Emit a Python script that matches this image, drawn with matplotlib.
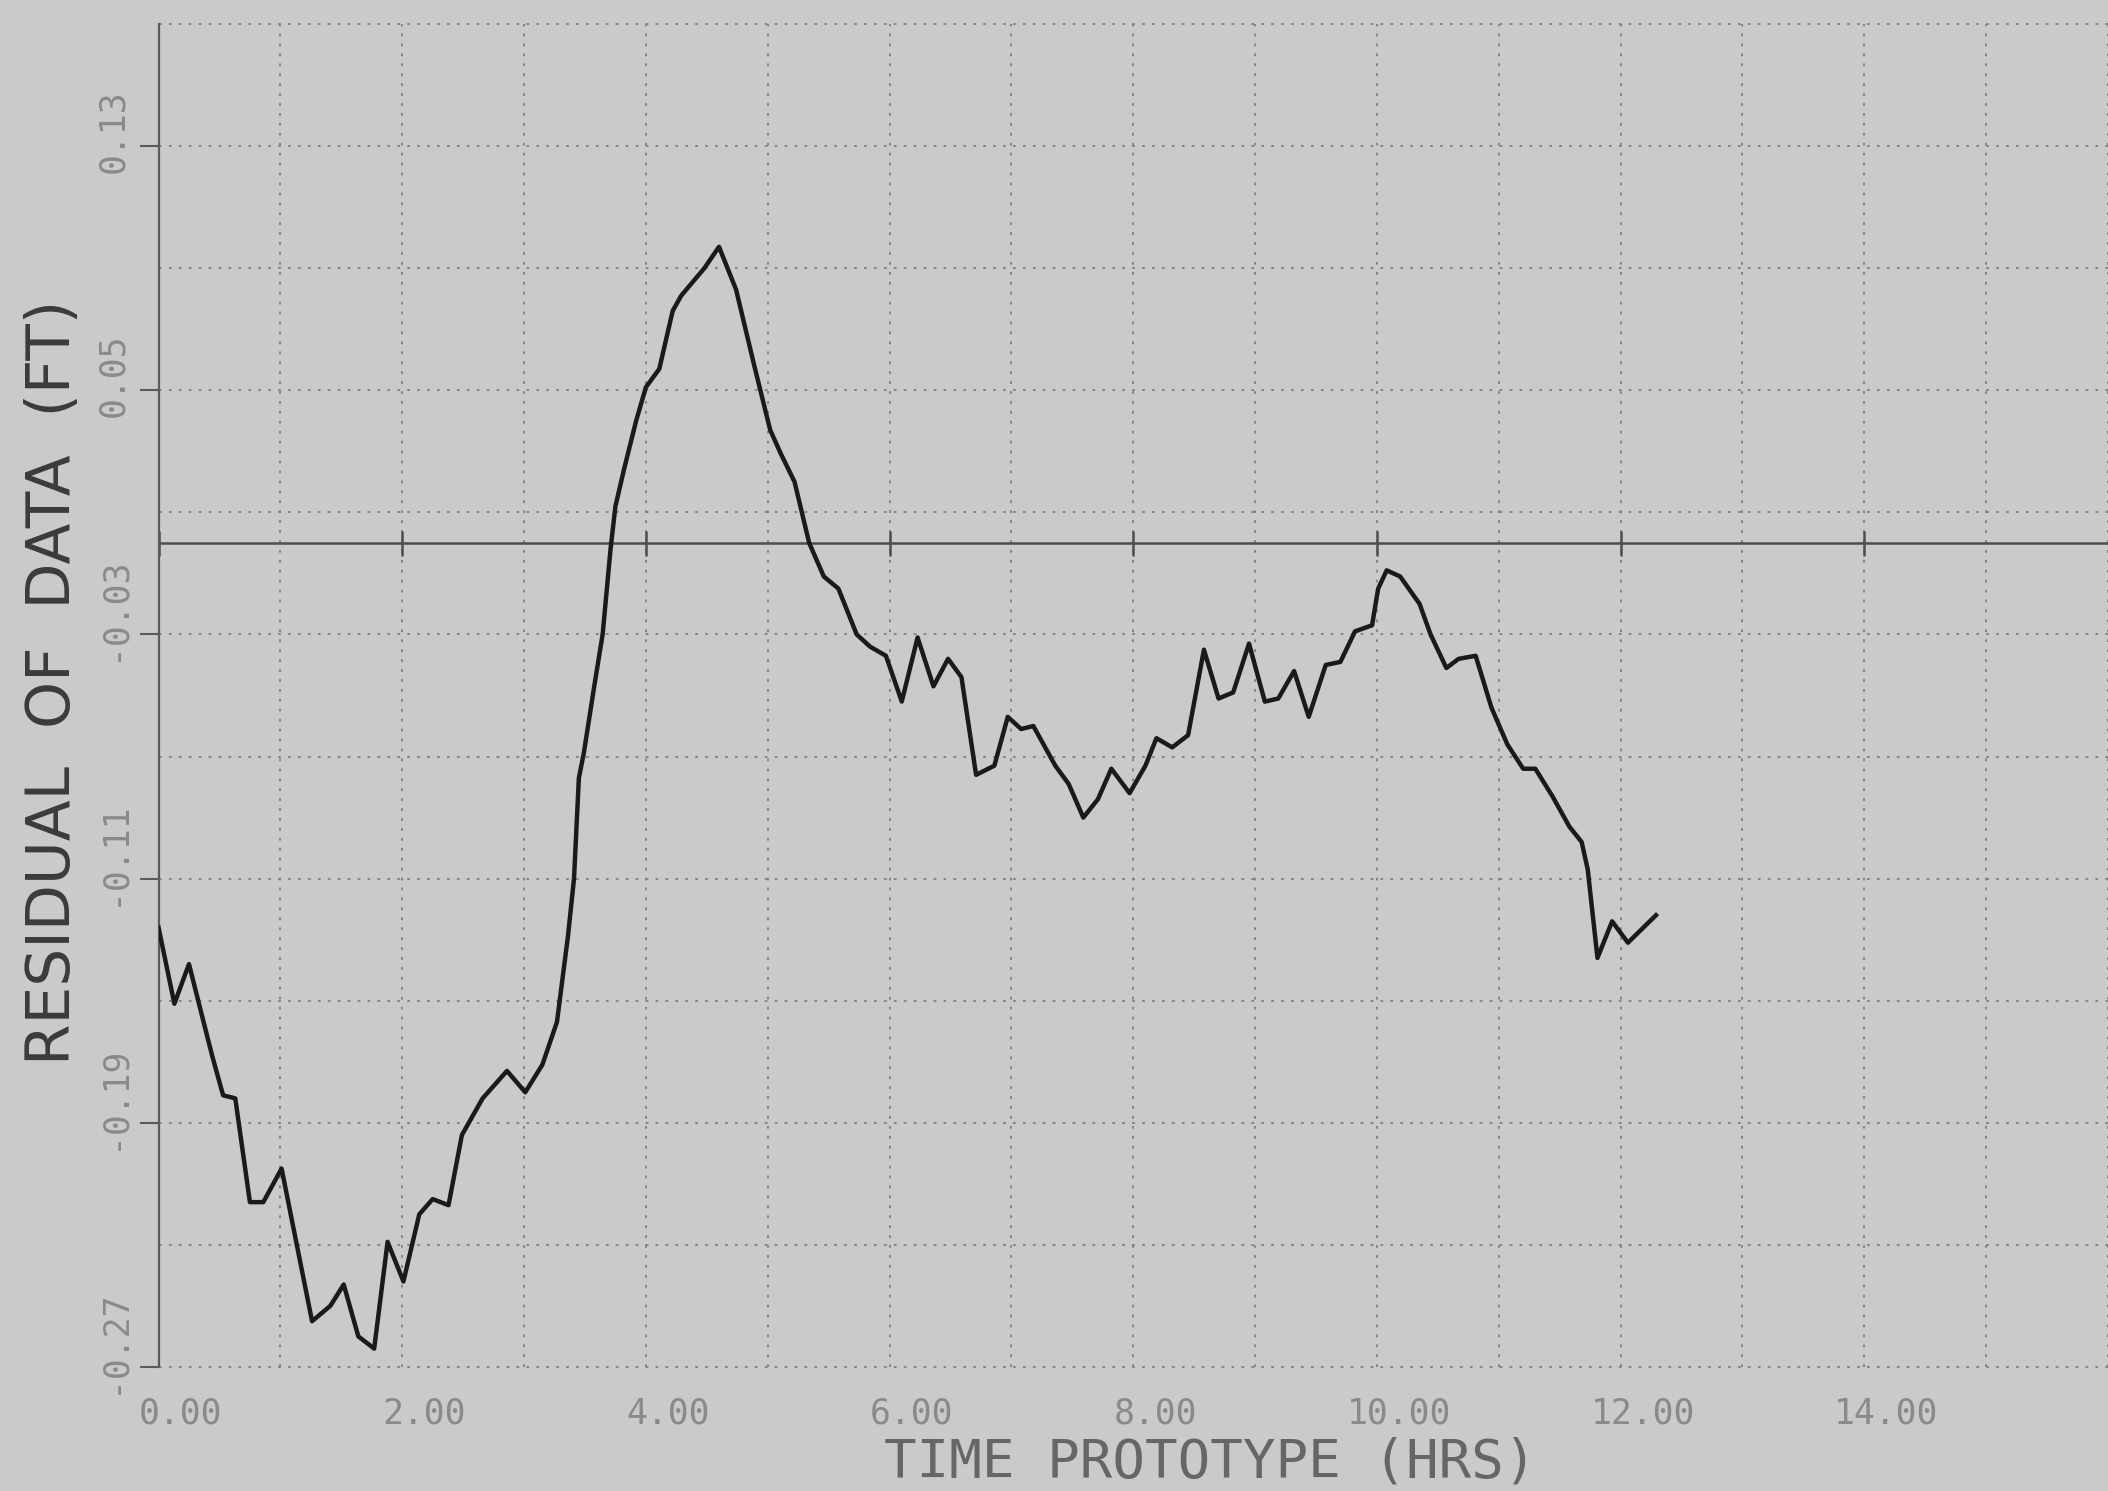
import matplotlib
matplotlib.use("Agg")
import matplotlib.pyplot as plt
from matplotlib.transforms import ScaledTranslation, blended_transform_factory

# ---------------- data ----------------
time_hrs = [0.00, 0.13, 0.25, 0.37, 0.44, 0.53, 0.63, 0.75, 0.86, 1.01,
            1.26, 1.41, 1.52, 1.64, 1.77, 1.88, 2.01, 2.14, 2.25, 2.38,
            2.49, 2.66, 2.86, 3.01, 3.15, 3.27, 3.36, 3.41, 3.45, 3.49,
            3.58, 3.645, 3.71, 3.75, 3.82, 3.92, 4.00, 4.11, 4.22, 4.29,
            4.48, 4.60, 4.74, 4.89, 5.02, 5.11, 5.22, 5.34, 5.46, 5.58,
            5.73, 5.84, 5.97, 6.10, 6.23, 6.36, 6.48, 6.59, 6.71, 6.86,
            6.97, 7.08, 7.18, 7.36, 7.47, 7.59, 7.71, 7.82, 7.97, 8.10,
            8.19, 8.32, 8.45, 8.58, 8.70, 8.82, 8.95, 9.08, 9.19, 9.32,
            9.44, 9.58, 9.70, 9.82, 9.96, 10.01, 10.08, 10.19, 10.35, 10.44,
            10.57, 10.67, 10.81, 10.94, 11.07, 11.20, 11.30, 11.44, 11.58, 11.68,
            11.73, 11.81, 11.93, 12.06, 12.29]
residual_ft = [-0.126, -0.151, -0.138, -0.157, -0.168, -0.181, -0.182, -0.216, -0.216, -0.205,
               -0.255, -0.250, -0.243, -0.260, -0.264, -0.229, -0.242, -0.220, -0.215, -0.217,
               -0.194, -0.182, -0.173, -0.180, -0.171, -0.157, -0.129, -0.110, -0.077, -0.069,
               -0.046, -0.030, -0.002, 0.012, 0.024, 0.040, 0.051, 0.057, 0.076, 0.081,
               0.090, 0.097, 0.083, 0.058, 0.037, 0.029, 0.020, 0.000, -0.011, -0.015,
               -0.030, -0.034, -0.037, -0.052, -0.031, -0.047, -0.038, -0.044, -0.076, -0.073,
               -0.057, -0.061, -0.060, -0.073, -0.079, -0.090, -0.084, -0.074, -0.082, -0.073,
               -0.064, -0.067, -0.063, -0.035, -0.051, -0.049, -0.033, -0.052, -0.051, -0.042,
               -0.057, -0.040, -0.039, -0.029, -0.027, -0.015, -0.009, -0.011, -0.020, -0.030,
               -0.041, -0.038, -0.037, -0.054, -0.066, -0.074, -0.074, -0.083, -0.093, -0.098,
               -0.107, -0.136, -0.124, -0.131, -0.122]

x_tick_values = [0, 2, 4, 6, 8, 10, 12, 14]
x_tick_labels = ["0.00", "2.00", "4.00", "6.00", "8.00", "10.00", "12.00", "14.00"]
y_tick_values = [-0.27, -0.19, -0.11, -0.03, 0.05, 0.13]
y_tick_labels = ["-0.27", "-0.19", "-0.11", "-0.03", "0.05", "0.13"]
x_grid_values = list(range(0, 17))
y_grid_values = [-0.27, -0.23, -0.19, -0.15, -0.11, -0.07, -0.03, 0.01, 0.05, 0.09, 0.13, 0.17]

x_title = "TIME PROTOTYPE (HRS)"
y_title = "RESIDUAL  OF  DATA  (FT)"

# ---------------- style ----------------
BG = "#cacbc8"
GRID = "#7f807e"
TICKTXT = "#8a8b89"
DPI = 100

fig = plt.figure(figsize=(21.08, 14.91), dpi=DPI)
fig.patch.set_facecolor(BG)
ax = fig.add_axes([0.0752, 0.0832, 0.9248, 0.9007])
ax.set_facecolor(BG)
ax.set_xlim(0, 16)
ax.set_ylim(-0.27, 0.17)

for gx in x_grid_values:
    ax.axvline(gx, color=GRID, lw=1.3, ls=(0, (1.5, 4)), zorder=1, clip_on=False)
for gy in y_grid_values:
    ax.axhline(gy, color=GRID, lw=1.3, ls=(0, (1.5, 4)), zorder=1, clip_on=False)

# zero reference line with hour ticks
ax.axhline(0, color="#4d4e4c", lw=1.8, zorder=2)
ax.plot(x_tick_values, [0] * len(x_tick_values), ls="none", marker="|",
        markersize=18, markeredgewidth=1.8, color="#4d4e4c", zorder=2)

# data curve
ax.plot(time_hrs, residual_ft, color="#1a1a1a", lw=3.2, zorder=3,
        solid_joinstyle="round")

for side in ["top", "right", "bottom"]:
    ax.spines[side].set_visible(False)
ax.spines["left"].set_color("#5a5b59")
ax.spines["left"].set_linewidth(1.6)

# ticks: marks only, labels drawn as offset texts
ax.set_xticks(x_tick_values)
ax.set_xticklabels([])
ax.tick_params(axis="x", length=0)
ax.set_yticks(y_tick_values)
ax.set_yticklabels([])
ax.tick_params(axis="y", length=14, width=1.5, color="#5a5b59", direction="out")

xtrans = blended_transform_factory(ax.transData, ax.transAxes) + \
    ScaledTranslation(0.22, -0.47, fig.dpi_scale_trans)
for xv, lab in zip(x_tick_values, x_tick_labels):
    ax.text(xv, 0, lab, transform=xtrans, fontfamily="DejaVu Sans Mono",
            fontsize=25, color=TICKTXT, ha="center", va="center", clip_on=False)

ytrans = blended_transform_factory(ax.transAxes, ax.transData) + \
    ScaledTranslation(-0.455, -0.27, fig.dpi_scale_trans)
for yv, lab in zip(y_tick_values, y_tick_labels):
    ax.text(0, yv, lab, transform=ytrans, fontfamily="DejaVu Sans Mono",
            fontsize=25, color=TICKTXT, rotation=90, ha="center", va="bottom",
            clip_on=False)

fig.text(1210 / 2108, 1 - 1463 / 1491, x_title, fontfamily="DejaVu Sans Mono",
         fontsize=39, color="#666765", ha="center", va="center")
fig.text(54 / 2108, 1 - 682 / 1491, y_title, fontfamily="DejaVu Sans",
         fontsize=43, color="#3b3c3a", rotation=90, ha="center", va="center")

fig.savefig("out.png", dpi=DPI, facecolor=BG)
